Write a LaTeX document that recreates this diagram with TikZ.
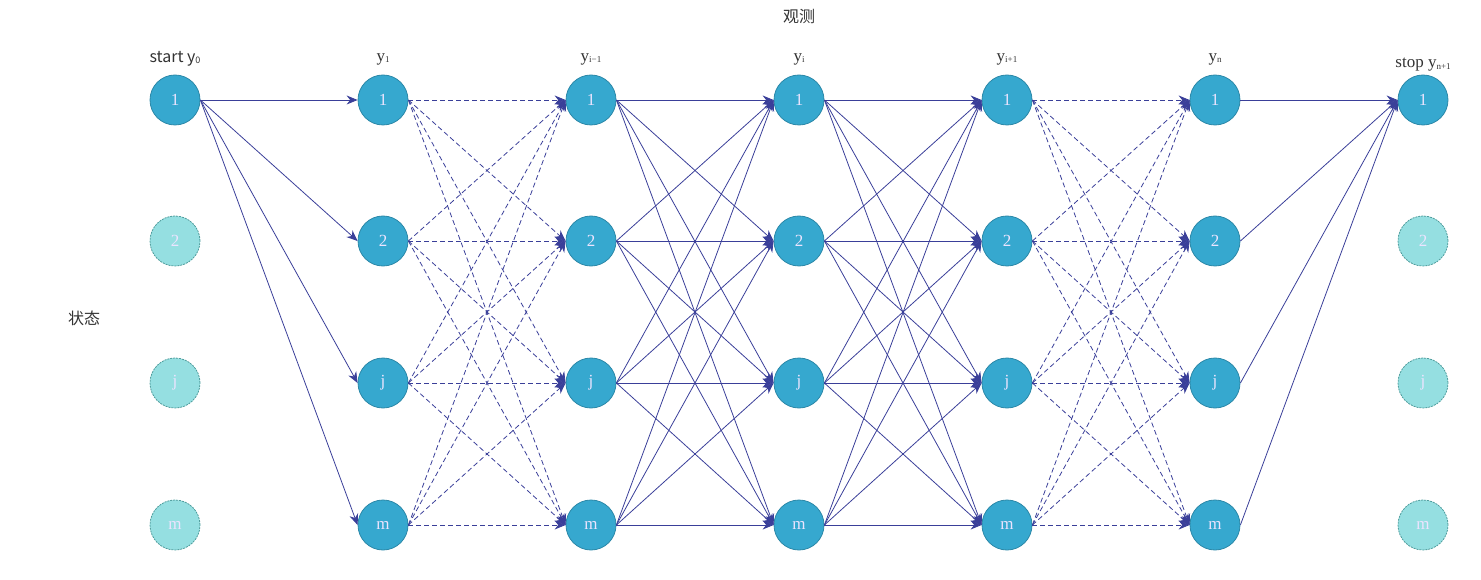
\documentclass[tikz,border=0pt]{standalone}
\usepackage{fontspec}
\setmainfont{Liberation Serif}
\newfontfamily\cjk{Noto Sans CJK SC}
\usetikzlibrary{arrows.meta}
\definecolor{edgec}{HTML}{3A3F99}
\definecolor{nodef}{HTML}{36A8CF}
\definecolor{noded}{HTML}{2B88A8}
\definecolor{ghostf}{HTML}{95DFE1}
\definecolor{ghostd}{HTML}{4E9C9C}
\definecolor{numc}{HTML}{ECE4FF}
\definecolor{labc}{HTML}{333333}
\newcommand{\lsub}[1]{\raisebox{-0.15ex}{\fontsize{9}{9}\selectfont #1}}
\tikzset{
  st/.style={circle,minimum size=50pt,inner sep=0pt,fill=nodef,draw=noded,line width=0.8pt,
    text=numc,font=\fontsize{17}{17}\selectfont},
  ghost/.style={circle,minimum size=50pt,inner sep=0pt,fill=ghostf,draw=ghostd,line width=0.8pt,
    dash pattern=on 2pt off 1pt,text=numc,font=\fontsize{17}{17}\selectfont},
  lab/.style={text=labc,font=\fontsize{17}{17}\selectfont,inner sep=0pt},
  arr/.style={draw=edgec,line width=0.8pt,-{Stealth[length=11pt,width=9pt]}},
  darr/.style={arr,dash pattern=on 5pt off 3pt}
}
\begin{document}
\begin{tikzpicture}[x=1pt,y=-1pt]
\useasboundingbox (0,0) rectangle (1481,580);
% labels
\node[lab,font=\cjk\fontsize{16}{16}\selectfont] (obs) at (799,17) {观测};
\node[lab,font=\cjk\fontsize{16}{16}\selectfont] (sta) at (84,318) {状态};
\node[lab,font=\cjk\fontsize{16}{16}\selectfont] (l0) at (175,59) {start y\lsub{0}};
\node[lab] (l1) at (383,59) {y\lsub{1}};
\node[lab] (l2) at (591,59) {y\lsub{i−1}};
\node[lab] (l3) at (799,59) {y\lsub{i}};
\node[lab] (l4) at (1007,59) {y\lsub{i+1}};
\node[lab] (l5) at (1215,59) {y\lsub{n}};
\node[lab] (l6) at (1423,65) {stop y\lsub{n+1}};
% nodes
\foreach \c/\x in {1/383,2/591,3/799,4/1007,5/1215}{
  \node[st] (c\c r1) at (\x,100) {1};
  \node[st] (c\c r2) at (\x,241) {2};
  \node[st] (c\c r3) at (\x,383) {j};
  \node[st] (c\c r4) at (\x,525) {m};
}
\foreach \c/\x in {0/175,6/1423}{
  \node[st] (c\c r1) at (\x,100) {1};
  \node[ghost] (c\c r2) at (\x,241) {2};
  \node[ghost] (c\c r3) at (\x,383) {j};
  \node[ghost] (c\c r4) at (\x,525) {m};
}
% edges
\foreach \b in {1,...,4}{
  \draw[arr] (c0r1.east) -- (c1r\b.west);
  \draw[arr] (c5r\b.east) -- (c6r1.west);
  \foreach \a in {1,...,4}{
    \draw[darr] (c1r\a.east) -- (c2r\b.west);
    \draw[arr] (c2r\a.east) -- (c3r\b.west);
    \draw[arr] (c3r\a.east) -- (c4r\b.west);
    \draw[darr] (c4r\a.east) -- (c5r\b.west);
  }
}
\end{tikzpicture}
\end{document}
